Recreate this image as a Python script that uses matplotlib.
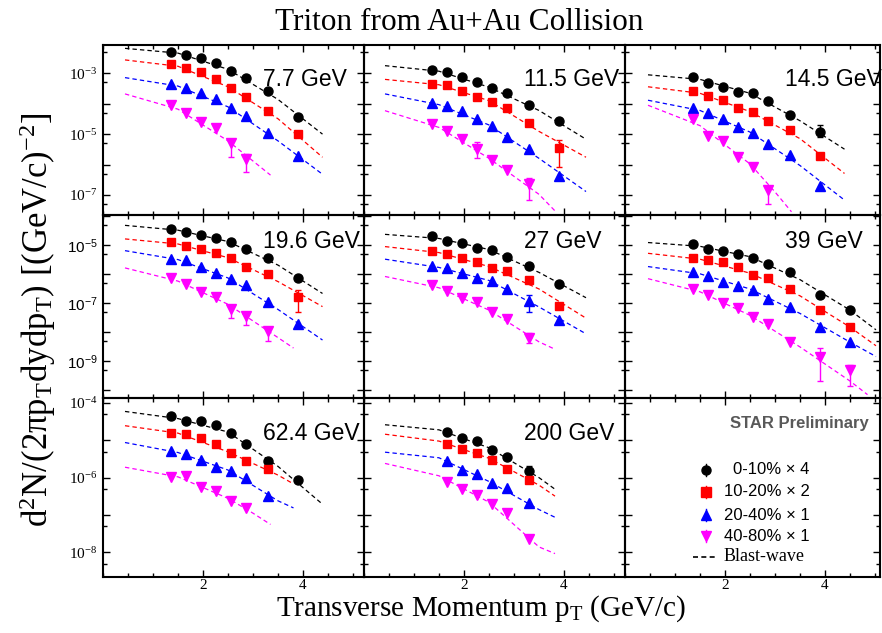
import numpy as np
import matplotlib
matplotlib.use("Agg")
import matplotlib.pyplot as plt
from matplotlib.ticker import FixedLocator, MultipleLocator, FuncFormatter, NullFormatter

SERIF = "Liberation Serif"
SANS = "Liberation Sans"

energies = ["7.7 GeV", "11.5 GeV", "14.5 GeV", "19.6 GeV", "27 GeV",
            "39 GeV", "62.4 GeV", "200 GeV"]
pt_bins = [1.35, 1.65, 1.95, 2.25, 2.55, 2.85, 3.3, 3.9, 4.5]
cent_labels = ["0-10% \u00d7 4", "10-20% \u00d7 2", "20-40% \u00d7 1", "40-80% \u00d7 1"]
colors = ["black", "#ff0000", "#0000ff", "#ff00ff"]
markers = ["o", "s", "^", "v"]

# triton spectra: [0-10% x4, 10-20% x2, 20-40%, 40-80%]
y_7p7 = [[5.1e-3, 4.1e-3, 3.1e-3, 2.2e-3, 1.2e-3, 6.9e-4, 2.7e-4, 3.7e-5],
         [2.0e-3, 1.45e-3, 1.1e-3, 6.5e-4, 3.2e-4, 1.6e-4, 5.9e-5, 9.8e-6],
         [4.4e-4, 3.4e-4, 2.2e-4, 1.4e-4, 7.1e-5, 4.0e-5, 1.07e-5, 1.95e-6],
         [8.9e-5, 5.0e-5, 2.6e-5, 1.55e-5, 5.0e-6, 1.5e-6]]
y_11p5 = [[1.3e-3, 1.1e-3, 7.8e-4, 5.2e-4, 3.2e-4, 2.2e-4, 8.9e-5, 2.7e-5],
          [4.4e-4, 4.1e-4, 2.6e-4, 1.7e-4, 1.17e-4, 7.1e-5, 2.3e-5, 3.5e-6],
          [1.03e-4, 8.6e-5, 5.7e-5, 3.2e-5, 1.86e-5, 8.2e-6, 3.2e-6, 4.2e-7],
          [2.1e-5, 1.3e-5, 7.0e-6, 3.2e-6, 1.4e-6, 6.6e-7, 2.3e-7]]
y_14p5 = [[7.4e-4, 4.9e-4, 3.6e-4, 2.5e-4, 2.2e-4, 1.23e-4, 4.3e-5, 1.15e-5],
          [2.6e-4, 1.8e-4, 1.3e-4, 7.1e-5, 5.2e-5, 2.7e-5, 1.35e-5, 1.95e-6],
          [7.1e-5, 5.0e-5, 3.2e-5, 1.66e-5, 1.07e-5, 4.7e-6, 2.0e-6, 2.0e-7],
          [3.2e-5, 8.9e-6, 6.0e-6, 1.74e-6, 8.5e-7, 1.45e-7]]
y_19p6 = [[3.5e-5, 2.8e-5, 2.1e-5, 1.74e-5, 1.23e-5, 7.1e-6, 3.5e-6, 7.1e-7],
          [1.23e-5, 9.3e-6, 7.2e-6, 5.1e-6, 3.6e-6, 1.7e-6, 1.0e-6, 1.6e-7],
          [3.3e-6, 2.9e-6, 1.7e-6, 1.07e-6, 6.7e-7, 4.2e-7, 1.05e-7, 1.9e-8],
          [7.1e-7, 4.6e-7, 2.3e-7, 1.6e-7, 6.0e-8, 3.4e-8, 1.03e-8]]
y_27 = [[2.0e-5, 1.38e-5, 1.2e-5, 7.7e-6, 6.7e-6, 3.8e-6, 1.8e-6, 4.6e-7],
        [6.2e-6, 4.8e-6, 3.4e-6, 2.5e-6, 1.65e-6, 1.26e-6, 5.9e-7, 7.9e-8],
        [1.8e-6, 1.58e-6, 1.05e-6, 7.1e-7, 5.8e-7, 3.0e-7, 1.2e-7, 2.6e-8],
        [4.2e-7, 2.6e-7, 1.5e-7, 1.05e-7, 5.0e-8, 2.8e-8, 6.3e-9]]
y_39 = [[1.05e-5, 7.1e-6, 6.3e-6, 4.9e-6, 3.6e-6, 2.2e-6, 1.2e-6, 1.8e-7, 5.8e-8],
        [3.5e-6, 2.9e-6, 2.5e-6, 1.7e-6, 9.3e-7, 7.4e-7, 3.0e-7, 5.8e-8, 1.45e-8],
        [1.15e-6, 8.1e-7, 5.4e-7, 3.9e-7, 2.8e-7, 1.38e-7, 7.4e-8, 1.45e-8, 4.4e-9],
        [3.0e-7, 1.8e-7, 1.02e-7, 6.6e-8, 3.2e-8, 1.86e-8, 4.3e-9, 1.4e-9, 4.9e-10]]
y_62p4 = [[4.5e-5, 3.3e-5, 3.3e-5, 2.6e-5, 1.55e-5, 7.8e-6, 2.8e-6, 8.7e-7],
          [1.6e-5, 1.48e-5, 1.13e-5, 7.8e-6, 4.5e-6, 2.8e-6, 1.7e-6],
          [5.1e-6, 4.3e-6, 3.0e-6, 1.95e-6, 1.5e-6, 9.5e-7, 3.2e-7],
          [1.02e-6, 1.1e-6, 5.5e-7, 4.4e-7, 2.4e-7, 1.5e-7]]
y_200 = [[1.7e-5, 1.18e-5, 9.8e-6, 5.5e-6, 3.6e-6, 1.55e-6],
         [7.8e-6, 5.9e-6, 4.7e-6, 3.0e-6, 1.66e-6, 8.7e-7],
         [2.8e-6, 1.6e-6, 1.26e-6, 7.1e-7, 5.4e-7, 2.1e-7],
         [7.8e-7, 5.1e-7, 3.4e-7, 1.95e-7, 1.15e-7, 2.3e-8]]

# blast-wave fits, (pT, value) along each curve
bw_7p7 = [[(0.44, 6.6e-3), (1.5, 4.6e-3), (2.5, 1.35e-3), (3.5, 1.38e-4), (4.39, 1.0e-5)],
          [(0.44, 2.75e-3), (1.5, 1.7e-3), (2.5, 3.6e-4), (3.5, 3.2e-5), (4.39, 1.74e-6)],
          [(0.44, 7.2e-4), (1.5, 3.8e-4), (2.5, 7.9e-5), (3.5, 6.0e-6), (4.39, 4.8e-7)],
          [(0.44, 2.1e-4), (1.5, 6.6e-5), (2.5, 6.0e-6), (3.35, 4.5e-7)]]
bw_11p5 = [[(0.42, 1.78e-3), (1.5, 1.17e-3), (2.5, 3.5e-4), (3.5, 6.0e-5), (4.44, 6.8e-6)],
           [(0.42, 6.3e-4), (1.5, 4.2e-4), (2.5, 1.26e-4), (3.5, 1.23e-5), (4.44, 1.74e-6)],
           [(0.42, 2.1e-4), (1.5, 9.3e-5), (2.5, 2.0e-5), (3.5, 1.6e-6), (4.44, 1.3e-7)],
           [(0.42, 5.9e-5), (1.5, 1.66e-5), (2.5, 1.6e-6), (3.5, 1.05e-7), (3.82, 3.0e-8)]]
bw_14p5 = [[(0.46, 8.9e-4), (1.5, 6.3e-4), (2.5, 2.2e-4), (3.5, 2.75e-5), (4.39, 3.2e-6)],
           [(0.46, 3.6e-4), (1.5, 2.2e-4), (2.5, 5.5e-5), (3.5, 7.1e-6), (4.39, 5.1e-7)],
           [(0.46, 1.3e-4), (1.5, 6.0e-5), (2.5, 1.17e-5), (3.5, 9.3e-7), (4.39, 6.8e-8)],
           [(0.46, 8.9e-5), (1.5, 1.9e-5), (2.5, 1.05e-6), (3.0, 1.26e-7), (3.33, 2.8e-8)]]
bw_19p6 = [[(0.44, 4.7e-5), (1.5, 3.2e-5), (2.5, 1.3e-5), (3.5, 2.0e-6), (4.39, 2.1e-7)],
           [(0.44, 1.6e-5), (1.5, 1.07e-5), (2.5, 3.6e-6), (3.5, 5.4e-7), (4.39, 7.4e-8)],
           [(0.44, 6.3e-6), (1.5, 3.1e-6), (2.5, 7.2e-7), (3.5, 5.9e-8), (4.39, 5.2e-9)],
           [(0.44, 1.6e-6), (1.5, 5.6e-7), (2.5, 8.9e-8), (3.5, 6.3e-9), (3.81, 2.75e-9)]]
bw_27 = [[(0.42, 2.3e-5), (1.5, 1.66e-5), (2.5, 6.9e-6), (3.5, 1.12e-6), (4.44, 1.5e-7)],
         [(0.42, 8.7e-6), (1.5, 5.4e-6), (2.5, 1.78e-6), (3.5, 3.0e-7), (4.44, 2.95e-8)],
         [(0.42, 3.2e-6), (1.5, 1.66e-6), (2.5, 5.9e-7), (3.5, 7.2e-8), (4.44, 8.5e-9)],
         [(0.42, 8.1e-7), (1.5, 3.3e-7), (2.5, 5.6e-8), (3.5, 4.5e-9), (3.82, 2.5e-9)]]
bw_39 = [[(0.46, 1.2e-5), (1.5, 8.9e-6), (2.5, 3.9e-6), (3.5, 6.3e-7), (4.5, 5.6e-8), (5.02, 1.17e-8)],
         [(0.46, 5.1e-6), (1.5, 3.2e-6), (2.5, 1.05e-6), (3.5, 1.74e-7), (4.5, 1.45e-8), (5.02, 3.3e-9)],
         [(0.46, 1.78e-6), (1.5, 1.0e-6), (2.5, 3.0e-7), (3.5, 4.3e-8), (4.5, 4.4e-9), (5.02, 1.4e-9)],
         [(0.46, 6.8e-7), (1.5, 2.4e-7), (2.5, 3.7e-8), (3.5, 3.0e-9), (4.5, 2.0e-10), (4.85, 6.8e-11)]]
bw_62p4 = [[(0.44, 5.9e-5), (1.5, 3.8e-5), (2.5, 1.66e-5), (3.5, 2.0e-6), (4.39, 1.95e-7)],
           [(0.44, 2.45e-5), (1.5, 1.55e-5), (2.5, 4.9e-6), (3.5, 1.17e-6), (3.81, 6.8e-7)],
           [(0.44, 8.7e-6), (1.5, 4.7e-6), (2.5, 1.6e-6), (3.5, 2.4e-7), (3.81, 1.55e-7)],
           [(0.44, 1.9e-6), (1.5, 1.05e-6), (2.5, 2.8e-7), (3.0, 1.12e-7), (3.35, 5.6e-8)]]
bw_200 = [[(0.42, 2.6e-5), (1.5, 1.9e-5), (2.5, 6.3e-6), (3.5, 1.0e-6), (3.82, 4.9e-7)],
          [(0.42, 1.45e-5), (1.5, 9.5e-6), (2.5, 3.3e-6), (3.5, 6.3e-7), (3.82, 3.2e-7)],
          [(0.42, 4.8e-6), (1.5, 3.4e-6), (2.5, 7.9e-7), (3.5, 1.4e-7), (3.82, 8.7e-8)],
          [(0.42, 2.4e-6), (1.5, 1.12e-6), (2.5, 2.2e-7), (3.5, 1.4e-8), (3.82, 9.3e-9)]]

# systematic brackets: (centrality, point, upper, lower)
err_7p7 = [(3, 4, 7.1e-6, 1.74e-6), (3, 5, 2.3e-6, 5.8e-7)]
err_11p5 = [(1, 7, 6.5e-6, 8.5e-7), (3, 3, 5.6e-6, 1.6e-6), (3, 6, 3.5e-7, 6.8e-8)]
err_14p5 = [(0, 7, 2.0e-5, 7.9e-6), (3, 5, 1.86e-7, 5.2e-8)]
err_19p6 = [(1, 7, 2.8e-7, 5.0e-8), (3, 4, 7.4e-8, 3.0e-8), (3, 5, 4.4e-8, 1.74e-8),
            (3, 6, 1.35e-8, 4.7e-9)]
err_27 = [(2, 6, 1.9e-7, 5.0e-8), (3, 6, 8.9e-9, 4.1e-9)]
err_39 = [(3, 7, 2.75e-9, 1.95e-10), (3, 8, 7.2e-10, 1.3e-10)]
err_62p4 = []
err_200 = [(0, 5, 2.0e-6, 1.1e-6)]

spectra = [y_7p7, y_11p5, y_14p5, y_19p6, y_27, y_39, y_62p4, y_200]
curves = [bw_7p7, bw_11p5, bw_14p5, bw_19p6, bw_27, bw_39, bw_62p4, bw_200]
errors = [err_7p7, err_11p5, err_14p5, err_19p6, err_27, err_39, err_62p4, err_200]
first_bin = [0, 0, 0, 0, 0, 0, 0, 1]

# pad layout in pixels
W, H = 882, 633
col_px = [(103, 364), (364, 625), (625, 880)]
row_px = [(45, 215), (215, 398), (398, 577)]
row_ylim = [(2.2e-8, 8.5e-3), (5.2e-11, 1.07e-4), (2.2e-9, 1.35e-4)]
row_labels = [(-3, -5, -7), (-5, -7, -9), (-4, -6, -8)]
row_font = [SERIF, SANS, SERIF]
label_off = [34, 27, 35]

fig = plt.figure(figsize=(W / 100, H / 100), dpi=100)


def make_pad(row, col):
    x0, x1 = col_px[col]
    y0, y1 = row_px[row]
    ax = fig.add_axes([x0 / W, 1 - y1 / H, (x1 - x0) / W, (y1 - y0) / H])
    ax.set_xlim(0, (x1 - x0) / 50.0)
    ax.set_yscale("log")
    ax.set_ylim(*row_ylim[row])
    ax.xaxis.set_major_locator(FixedLocator([2, 4]))
    ax.xaxis.set_minor_locator(MultipleLocator(0.5))
    ax.yaxis.set_major_locator(FixedLocator(10.0 ** np.arange(-12, 0)))
    ax.yaxis.set_minor_locator(FixedLocator(5 * 10.0 ** np.arange(-12, 0)))
    ax.yaxis.set_minor_formatter(NullFormatter())
    labelled = row_labels[row]

    def fmt(v, pos):
        e = int(round(np.log10(v)))
        return r"$\mathregular{10^{%d}}$" % e if e in labelled else ""

    ax.yaxis.set_major_formatter(FuncFormatter(fmt))
    ax.xaxis.set_major_formatter(FuncFormatter(lambda v, p: "%d" % v))
    ax.tick_params(which="both", direction="in", top=True, right=True, width=1.0)
    ax.tick_params(which="major", length=5.2)
    ax.tick_params(which="minor", length=2.6)
    ax.tick_params(axis="y", labelsize=11, pad=4, labelleft=(col == 0))
    ax.tick_params(axis="x", labelsize=11, pad=1.5, labelbottom=(row == 2))
    for lab in ax.get_yticklabels():
        lab.set_family(row_font[row])
    for lab in ax.get_xticklabels():
        lab.set_family(SERIF)
    for s in ax.spines.values():
        s.set_linewidth(1.5)
    ax.patch.set_alpha(0)
    return ax


for idx in range(9):
    row, col = divmod(idx, 3)
    ax = make_pad(row, col)
    if idx == 8:
        continue
    x0 = col_px[col][0]
    y0, y1 = row_px[row]
    fig.text((x0 + 160) / W, 1 - (y0 + label_off[row]) / H, energies[idx],
             family=SANS, fontsize=16.5, ha="left", va="center")
    pts = pt_bins[first_bin[idx]:]
    for c in range(4):
        cx = [p[0] for p in curves[idx][c]]
        cy = [p[1] for p in curves[idx][c]]
        ax.plot(cx, cy, color=colors[c], lw=0.9, ls=(0, (3.5, 2.5)), zorder=2)
    for (c, i, hi, lo) in errors[idx]:
        v = spectra[idx][c][i]
        ax.errorbar([pts[i]], [v], yerr=[[v - lo], [hi - v]], fmt="none",
                    ecolor=colors[c], elinewidth=1.0, capsize=2.5, capthick=1.0, zorder=3)
    for c in range(4):
        vals = spectra[idx][c]
        ax.plot(pts[:len(vals)], vals, ls="none", marker=markers[c], color=colors[c],
                mec=colors[c], ms=6.5 if markers[c] != "s" else 6.0, zorder=4)

# legend pad
lax = fig.axes[-1]
lax.text(0.955, 0.86, "STAR Preliminary", transform=lax.transAxes, ha="right",
         va="center", family=SANS, fontweight="bold", fontsize=12, color="#595959")
leg_y = [0.598, 0.475, 0.346, 0.229]
for c in range(4):
    lax.plot([0.318, 0.318], [leg_y[c] - 0.035, leg_y[c] + 0.035], color=colors[c],
             lw=1.0, transform=lax.transAxes)
    lax.plot([0.318], [leg_y[c]], marker=markers[c], color=colors[c], ms=6.5,
             transform=lax.transAxes, ls="none")
    lax.text(0.388 if c else 0.424, leg_y[c], cent_labels[c], transform=lax.transAxes,
             ha="left", va="center", family=SANS, fontsize=12)
lax.plot([0.267, 0.361], [0.112, 0.112], color="black", lw=1.2, ls=(0, (3, 2)),
         transform=lax.transAxes)
lax.text(0.388, 0.112, "Blast-wave", transform=lax.transAxes, ha="left",
         va="center", family=SERIF, fontsize=13)

fig.text(459 / W, 1 - 22 / H, "Triton from Au+Au Collision", ha="center", va="center",
         family=SERIF, fontsize=22.5)
fig.text(481 / W, 1 - 616 / H, r"Transverse Momentum p$\mathregular{_T}$ (GeV/c)",
         ha="center", va="baseline", family=SERIF, fontsize=21)
fig.text(38 / W, 1 - 320 / H,
         r"d$\mathregular{^2}$N/(2πp$\mathregular{_T}$dydp$\mathregular{_T}$) "
         r"[(GeV/c)$\mathregular{^{-2}}$]",
         ha="center", va="center", rotation=90, family=SERIF, fontsize=25)

fig.savefig("out.png", dpi=100)
